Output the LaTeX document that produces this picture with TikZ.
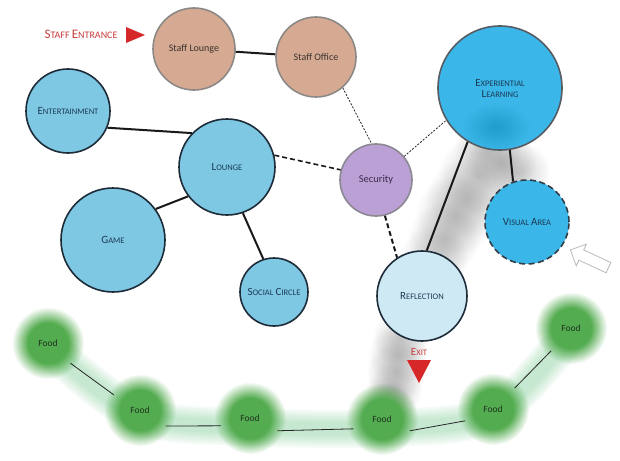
\documentclass[tikz,border=0pt]{standalone}
\usepackage{fontspec}
\setmainfont{Carlito}
\usetikzlibrary{fadings,shapes.arrows,calc}
\definecolor{bluefill}{RGB}{126,200,228}
\definecolor{bluedraw}{RGB}{30,44,58}
\definecolor{bluetext}{RGB}{28,58,84}
\definecolor{skyfill}{RGB}{58,182,232}
\definecolor{skydraw}{RGB}{85,92,100}
\definecolor{refill}{RGB}{206,233,244}
\definecolor{secfill}{RGB}{186,160,212}
\definecolor{secdraw}{RGB}{140,136,146}
\definecolor{sectext}{RGB}{60,44,80}
\definecolor{stafffill}{RGB}{214,170,146}
\definecolor{staffdraw}{RGB}{140,136,134}
\definecolor{stafftext}{RGB}{58,50,46}
\definecolor{foodgreen}{RGB}{84,172,80}
\definecolor{bandgreen}{RGB}{100,196,130}
\definecolor{foodtext}{RGB}{30,50,30}
\definecolor{exitred}{RGB}{214,40,40}
\definecolor{labelred}{RGB}{200,60,60}
\definecolor{smoke}{RGB}{128,128,128}
\definecolor{blob}{RGB}{26,150,196}
\pgfdeclareradialshading{myfoodshade}{\pgfpointorigin}{color(0bp)=(pgftransparent!0); color(14bp)=(pgftransparent!0); color(25bp)=(pgftransparent!100); color(50bp)=(pgftransparent!100)}
\pgfdeclarefading{foodfuzz}{\pgfuseshading{myfoodshade}}
\tikzfading[name=softdisk, inner color=transparent!0, outer color=transparent!100]
\newcommand\mysc[2]{{\fontsize{11}{12}\selectfont #1}{\fontsize{8.5}{10}\selectfont #2}}
\newcommand\mybigsc[2]{{\fontsize{13}{14}\selectfont #1}{\fontsize{10}{11}\selectfont #2}}
\tikzset{
  room/.style={circle, line width=1.6pt, inner sep=0pt, align=center, font=\fontsize{10}{12}\selectfont},
  bluer/.style={room, fill=bluefill, draw=bluedraw, text=bluetext},
  skyr/.style={room, fill=skyfill, draw=skydraw, text=bluetext},
  reflr/.style={room, fill=refill, draw=bluedraw, text=bluetext},
  secr/.style={room, fill=secfill, draw=secdraw, text=sectext, font=\fontsize{10.5}{12}\selectfont},
  staffr/.style={room, fill=stafffill, draw=staffdraw, text=stafftext},
  foodglow/.style={fill=foodgreen, path fading=foodfuzz},
  smokepuff/.style={fill=smoke, opacity=0.38, path fading=softdisk},
  foodn/.style={circle, minimum size=60pt, inner sep=0pt, text=foodtext, font=\fontsize{9.5}{11}\selectfont},
  solidc/.style={draw=black!90, line width=2pt},
  dottedc/.style={draw=black!85, line width=0.8pt, dash pattern=on 2pt off 1.5pt},
  dashedc/.style={draw=black!90, line width=1.6pt, dash pattern=on 5pt off 3pt},
  dashedthick/.style={draw=black!90, line width=2pt, dash pattern=on 5pt off 3pt},
  foodc/.style={draw=black!85, line width=0.8pt},
  redtext/.style={text=labelred, inner sep=0pt}
}
\begin{document}
\begin{tikzpicture}[x=1pt,y=-1pt]
\useasboundingbox (0,0) rectangle (620,460);
\fill[white] (0,0) rectangle (620,460);
% smoke
\foreach \px/\py/\pr in {488/148/34, 502/162/34, 520/172/30, 478/175/40, 466/198/40, 455/215/40, 444/238/36, 434/258/34, 425/280/30,
  400/338/28, 398/355/30, 396/372/30, 394/390/28, 392/405/24, 386/398/22}{
  \fill[smokepuff] (\px,\py) circle (\pr);
}
% green band
\foreach \w in {38,34,30,26,22,18,14}{
  \draw[bandgreen, line width=\w pt, opacity=0.06, line cap=round, line join=round]
    plot[smooth] coordinates {(52,350) (140,416) (250,427) (382,428) (493,414) (571,332)};
}
% food glows
\fill[foodglow] (48,343) circle (36);
\fill[foodglow] (140,410) circle (36);
\fill[foodglow] (250,418) circle (36);
\fill[foodglow] (382,419) circle (36);
\fill[foodglow] (493,409) circle (36);
\fill[foodglow] (571,328) circle (36);
% rooms
\node[staffr, minimum size=82pt] (sl) at (194,49) {Staff Lounge};
\node[staffr, minimum size=80pt] (so) at (316,57) {Staff Office};
\node[bluer, minimum size=84pt] (ent) at (68,111) {\mysc{E}{NTERTAINMENT}};
\node[bluer, minimum size=96pt] (lounge) at (227,167) {\mysc{L}{OUNGE}};
\node[bluer, minimum size=104pt] (game) at (113,240) {\mysc{G}{AME}};
\node[bluer, minimum size=68pt] (soc) at (274,292) {\mysc{S}{OCIAL} \mysc{C}{IRCLE}};
\node[secr, minimum size=72pt] (sec) at (376,180) {Security};
\node[skyr, minimum size=124pt] (exp) at (500,88) {\mysc{E}{XPERIENTIAL}\\[-1pt]\mysc{L}{EARNING}};
\node[skyr, minimum size=84pt, dash pattern=on 6pt off 3.5pt, draw=bluedraw!80!gray] (vis) at (527,222) {\mysc{V}{ISUAL} \mysc{A}{REA}};
\node[reflr, minimum size=90pt] (refl) at (422,296) {\mysc{R}{EFLECTION}};
\fill[blob, opacity=0.8, path fading=softdisk] (496,127) ellipse (34 and 24);
% connectors
\draw[solidc] (sl) -- (so);
\draw[dottedc] (so.-49) -- (sec.97);
\draw[solidc] (ent.-23) -- (lounge.136);
\draw[solidc] (lounge.217) -- (game.36);
\draw[solidc] (lounge.-71) -- (soc.108);
\draw[dashedc] (lounge.14) -- (sec.164);
\draw[dottedc] (sec.40) -- (exp.211);
\draw[dashedthick] (sec.-76) -- (refl.123);
\draw[solidc] (exp.-121) -- (refl.84);
\draw[solidc] (exp.-81) -- (vis.109);
% food nodes
\node[foodn] (f1) at (48,343) {Food};
\node[foodn] (f2) at (140,410) {Food};
\node[foodn] (f3) at (250,418) {Food};
\node[foodn] (f4) at (382,419) {Food};
\node[foodn] (f5) at (493,409) {Food};
\node[foodn] (f6) at (571,328) {Food};
\draw[foodc] (f1.-42) -- (f2.150);
\draw[foodc] (f2.-32) -- (f3.195);
\draw[foodc] (f3.-25) -- (f4.199);
\draw[foodc] (f4.-23) -- (f5.203);
\draw[foodc] (f5.44) -- (f6.229);
% labels and markers
\node[redtext] (staffent) at (81,34) {\mybigsc{S}{TAFF} \mybigsc{E}{NTRANCE}};
\fill[exitred] (126,27) -- (145,35) -- (126,43) -- cycle;
\node[redtext] (exit) at (419,352) {\mysc{E}{XIT}};
\fill[exitred] (407,360) -- (431,360) -- (419,383) -- cycle;
\node[single arrow, draw=gray!60, fill=white, line width=0.7pt, minimum height=42pt, minimum width=24pt, single arrow head extend=6pt, inner sep=5pt, rotate=155] (arr) at (592,260) {};
\end{tikzpicture}
\end{document}
